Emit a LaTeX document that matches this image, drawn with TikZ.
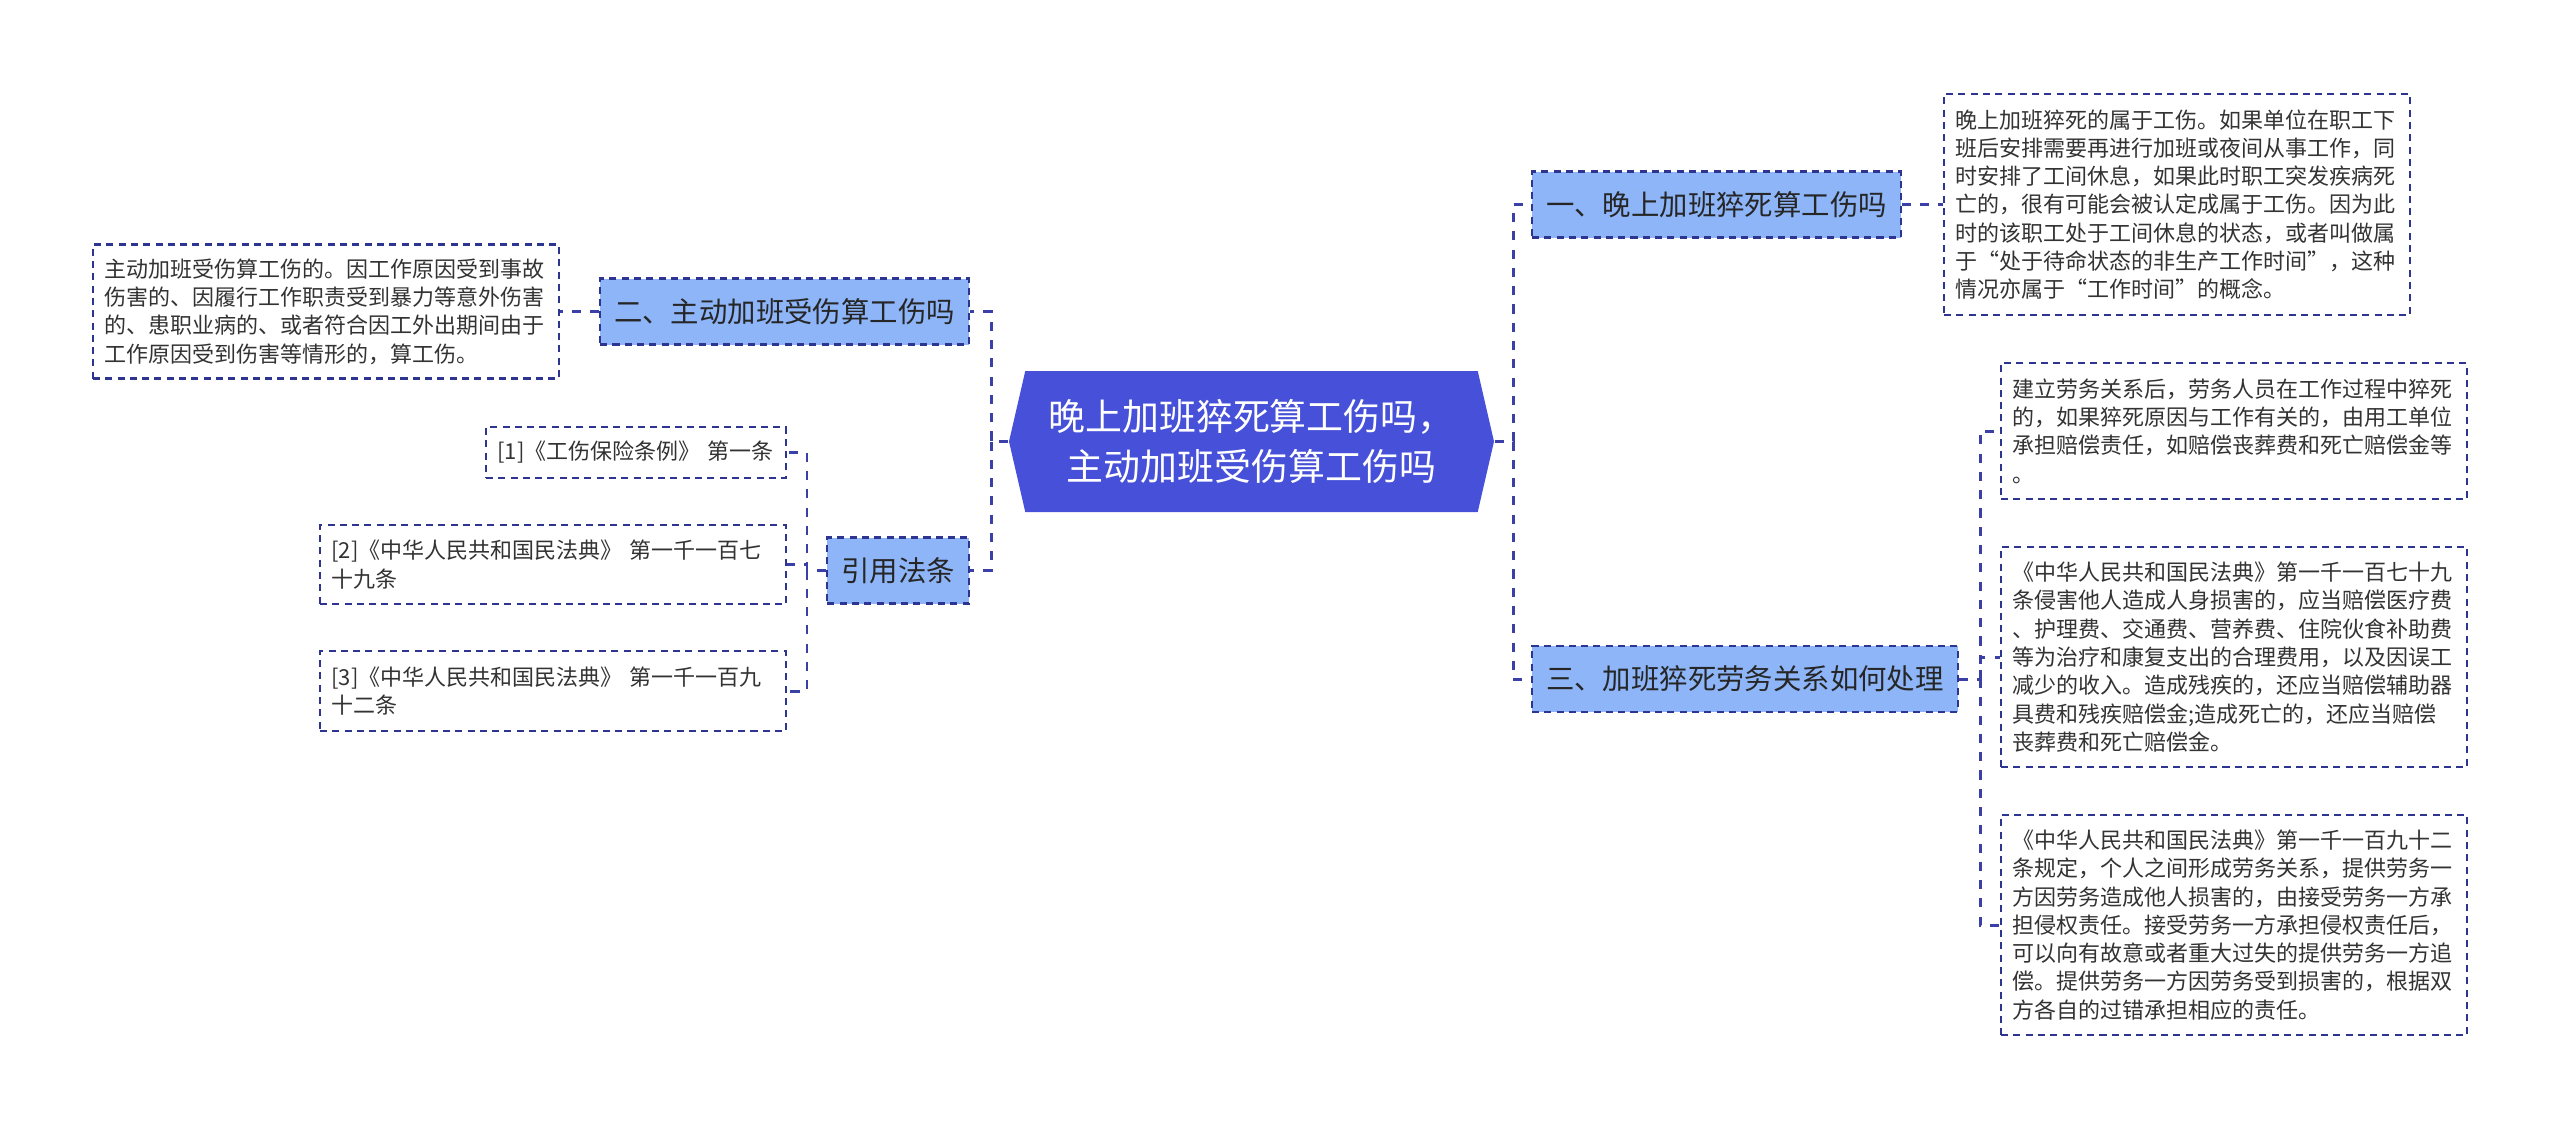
\documentclass[tikz,border=0pt]{standalone}
\usepackage{fontspec}
\setmainfont{Noto Sans CJK SC}
\usepackage{xcolor}
\usepackage{tikz}
\usetikzlibrary{positioning,shapes.symbols}
\definecolor{centc}{HTML}{4650D8}
\definecolor{topc}{HTML}{8DB5F8}
\definecolor{edgec}{HTML}{2E3590}
\definecolor{linkc}{HTML}{3A40A6}
\definecolor{txtc}{HTML}{333333}
\tikzset{
  link/.style={draw=linkc,line width=0.85pt,dash pattern=on 2.6pt off 2.6pt},
  topic/.style={draw=edgec,line width=0.6pt,dash pattern=on 2pt off 1.5pt,fill=topc,inner xsep=1.4mm,inner ysep=0pt,minimum height=6.6mm,font=\fontsize{8.08pt}{10pt}\selectfont,text=black!85},
  leaf/.style={draw=edgec,line width=0.6pt,dash pattern=on 2pt off 1.5pt,fill=white,text width=44.3mm,inner xsep=1.15mm,inner ysep=0pt,align=left,font=\fontsize{6.26pt}{8.05pt}\selectfont,text=txtc}
}
\begin{document}
\begin{tikzpicture}[x=1mm,y=-1mm]
\useasboundingbox (0,0) rectangle (256,113.1);
% centre
\node[signal,signal to=east and west,signal pointer angle=154,fill=centc,text=white,align=center,
  minimum width=48.5mm,minimum height=14.1mm,inner sep=0pt,font=\fontsize{10.5pt}{14.2pt}\selectfont]
  (c) at (125.15,44.15) {晚上加班猝死算工伤吗，\\主动加班受伤算工伤吗};
% first level
\node[topic,anchor=west] (b1) at (153.1,20.45) {一、晚上加班猝死算工伤吗};
\node[topic,anchor=west] (b3) at (153.1,67.9) {三、加班猝死劳务关系如何处理};
\node[topic,anchor=east] (b2) at (97,31.15) {二、主动加班受伤算工伤吗};
\node[topic,anchor=east] (b4) at (97,57.05) {引用法条};
% leaves
\node[leaf,anchor=west,minimum height=22.1mm] (l1) at (194.3,20.45) {晚上加班猝死的属于工伤。如果单位在职工下\\班后安排需要再进行加班或夜间从事工作，同\\时安排了工间休息，如果此时职工突发疾病死\\亡的，很有可能会被认定成属于工伤。因为此\\时的该职工处于工间休息的状态，或者叫做属\\于“处于待命状态的非生产工作时间”，这种\\情况亦属于“工作时间”的概念。};
\node[leaf,anchor=east,minimum height=13.4mm] (l2) at (56,31.15) {主动加班受伤算工伤的。因工作原因受到事故\\伤害的、因履行工作职责受到暴力等意外伤害\\的、患职业病的、或者符合因工外出期间由于\\工作原因受到伤害等情形的，算工伤。};
\node[leaf,anchor=west,minimum height=13.6mm] (la) at (200,43.1) {建立劳务关系后，劳务人员在工作过程中猝死\\的，如果猝死原因与工作有关的，由用工单位\\承担赔偿责任，如赔偿丧葬费和死亡赔偿金等\\。};
\node[leaf,anchor=west,minimum height=22mm] (lb) at (200,65.7) {《中华人民共和国民法典》第一千一百七十九\\条侵害他人造成人身损害的，应当赔偿医疗费\\、护理费、交通费、营养费、住院伙食补助费\\等为治疗和康复支出的合理费用，以及因误工\\减少的收入。造成残疾的，还应当赔偿辅助器\\具费和残疾赔偿金;造成死亡的，还应当赔偿\\丧葬费和死亡赔偿金。};
\node[leaf,anchor=west,minimum height=22mm] (lc) at (200,92.5) {《中华人民共和国民法典》第一千一百九十二\\条规定，个人之间形成劳务关系，提供劳务一\\方因劳务造成他人损害的，由接受劳务一方承\\担侵权责任。接受劳务一方承担侵权责任后，\\可以向有故意或者重大过失的提供劳务一方追\\偿。提供劳务一方因劳务受到损害的，根据双\\方各自的过错承担相应的责任。};
\node[leaf,anchor=east,text width=27.7mm,minimum height=5.1mm] (r1) at (78.7,45.25) {[1]《工伤保险条例》 第一条};
\node[leaf,anchor=east,minimum height=7.9mm] (r2) at (78.7,56.45) {[2]《中华人民共和国民法典》 第一千一百七\\十九条};
\node[leaf,anchor=east,minimum height=8mm] (r3) at (78.7,69.1) {[3]《中华人民共和国民法典》 第一千一百九\\十二条};
% buses
\coordinate (rbus) at (151.3,44.15);
\coordinate (lbus) at (99.1,44.15);
\coordinate (fbus) at (80.7,57.05);
\coordinate (sbus) at (198,67.9);
% links
\draw[link] (c.east) -- (rbus) |- (b1.west);
\draw[link] (rbus) |- (b3.west);
\draw[link] (c.west) -- (lbus) |- (b2.east);
\draw[link] (lbus) |- (b4.east);
\draw[link] (b1.east) -- (l1.west);
\draw[link] (b2.west) -- (l2.east);
\draw[link] (b3.east) -- (sbus) |- (la.west);
\draw[link] (sbus) |- (lb.west);
\draw[link] (sbus) |- (lc.west);
\draw[link] (b4.west) -- (fbus) |- (r1.east);
\draw[link] (fbus) |- (r2.east);
\draw[link] (fbus) |- (r3.east);
\end{tikzpicture}
\end{document}
